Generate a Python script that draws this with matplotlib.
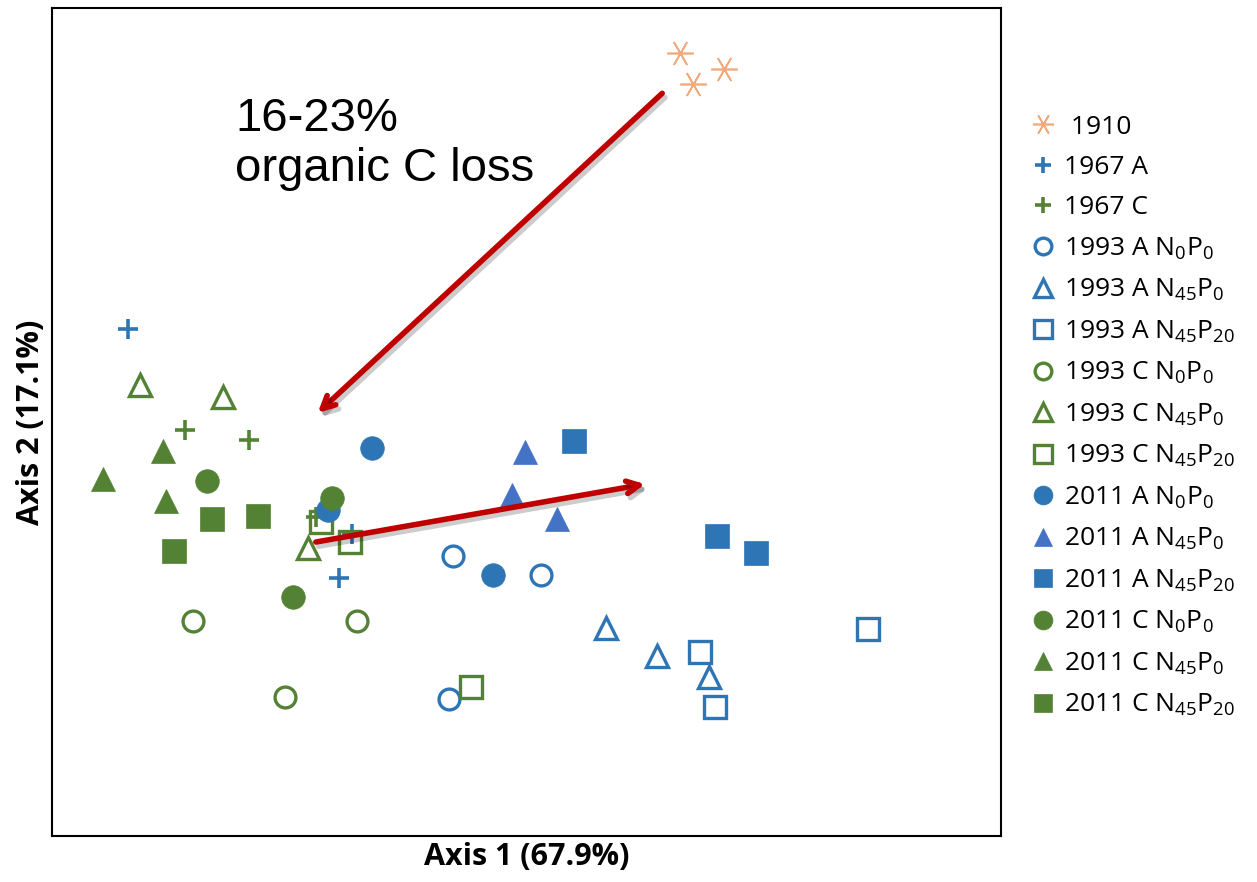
import matplotlib
matplotlib.use("Agg")
import matplotlib.pyplot as plt
import matplotlib.patheffects as pe
from matplotlib.lines import Line2D

plt.rcParams["font.family"] = ["Open Sans", "DejaVu Sans"]
plt.rcParams["mathtext.default"] = "regular"

BLUE = "#2E75B6"
BLUE_TRI = "#4472C4"
GREEN = "#548235"
ORANGE = "#F0A06E"
RED = "#C00000"

# ordination scores (arbitrary units)
series_names = [
    " 1910", "1967 A", "1967 C",
    "1993 A N$_0$P$_0$", "1993 A N$_{45}$P$_0$", "1993 A N$_{45}$P$_{20}$",
    "1993 C N$_0$P$_0$", "1993 C N$_{45}$P$_0$", "1993 C N$_{45}$P$_{20}$",
    "2011 A N$_0$P$_0$", "2011 A N$_{45}$P$_0$", "2011 A N$_{45}$P$_{20}$",
    "2011 C N$_0$P$_0$", "2011 C N$_{45}$P$_0$", "2011 C N$_{45}$P$_{20}$",
]
x_1910 = [66.2, 67.5, 70.8]
y_1910 = [94.6, 90.8, 92.6]
x_1967a = [8.0, 31.6, 30.2]
y_1967a = [61.2, 36.5, 31.2]
x_1967c = [14.0, 20.8, 27.8]
y_1967c = [49.0, 47.8, 38.5]
x_1993a_n0p0 = [42.3, 51.5, 41.8]
y_1993a_n0p0 = [33.8, 31.5, 16.5]
x_1993a_n45p0 = [58.4, 63.8, 69.2]
y_1993a_n45p0 = [25.1, 21.7, 19.2]
x_1993a_n45p20 = [68.3, 69.9, 86.0]
y_1993a_n45p20 = [22.2, 15.6, 25.0]
x_1993c_n0p0 = [14.9, 32.1, 24.6]
y_1993c_n0p0 = [26.0, 26.0, 16.8]
x_1993c_n45p0 = [9.3, 18.0, 27.0]
y_1993c_n45p0 = [54.5, 53.0, 34.8]
x_1993c_n45p20 = [28.3, 31.4, 44.2]
y_1993c_n45p20 = [37.9, 35.5, 18.0]
x_2011a_n0p0 = [33.7, 46.5, 29.1]
y_2011a_n0p0 = [46.9, 31.5, 39.4]
x_2011a_n45p0 = [49.8, 48.5, 53.2]
y_2011a_n45p0 = [46.4, 41.2, 38.3]
x_2011a_n45p20 = [55.0, 70.1, 74.2]
y_2011a_n45p20 = [47.7, 36.2, 34.2]
x_2011c_n0p0 = [16.3, 29.5, 25.4]
y_2011c_n0p0 = [42.9, 40.8, 28.9]
x_2011c_n45p0 = [5.4, 11.7, 12.0]
y_2011c_n45p0 = [43.1, 46.5, 40.5]
x_2011c_n45p20 = [12.9, 16.9, 21.7]
y_2011c_n45p20 = [34.4, 38.3, 38.6]

series_x = [x_1910, x_1967a, x_1967c, x_1993a_n0p0, x_1993a_n45p0, x_1993a_n45p20,
            x_1993c_n0p0, x_1993c_n45p0, x_1993c_n45p20, x_2011a_n0p0, x_2011a_n45p0,
            x_2011a_n45p20, x_2011c_n0p0, x_2011c_n45p0, x_2011c_n45p20]
series_y = [y_1910, y_1967a, y_1967c, y_1993a_n0p0, y_1993a_n45p0, y_1993a_n45p20,
            y_1993c_n0p0, y_1993c_n45p0, y_1993c_n45p20, y_2011a_n0p0, y_2011a_n45p0,
            y_2011a_n45p20, y_2011c_n0p0, y_2011c_n45p0, y_2011c_n45p20]

# arrows: start and end in score units
arrow_loss = [(64.3, 89.7), (28.0, 51.1)]
arrow_shift = [(27.8, 35.5), (62.5, 42.5)]

# marker, colour, filled, size
styles = [
    ("*asterisk", ORANGE, False, 19),
    ("+", BLUE, False, 15),
    ("+", GREEN, False, 15),
    ("o", BLUE, False, 15),
    ("^", BLUE, False, 16),
    ("s", BLUE, False, 16),
    ("o", GREEN, False, 15),
    ("^", GREEN, False, 16),
    ("s", GREEN, False, 16),
    ("o", BLUE, True, 17),
    ("^", BLUE_TRI, True, 17),
    ("s", BLUE, True, 17),
    ("o", GREEN, True, 17),
    ("^", GREEN, True, 17),
    ("s", GREEN, True, 17),
]

fig = plt.figure(figsize=(12.57, 8.82), dpi=100)
ax = fig.add_axes([0.0414, 0.0522, 0.7549, 0.9387])
ax.set_xlim(0, 100)
ax.set_ylim(0, 100)
ax.set_xticks([])
ax.set_yticks([])
for sp in ax.spines.values():
    sp.set_linewidth(1.5)
    sp.set_color("black")

handles = []
for name, xs, ys, (mk, col, filled, ms) in zip(series_names, series_x, series_y, styles):
    if mk == "*asterisk":
        kw = dict(marker=(6, 2, 90), markersize=ms, markeredgewidth=1.2,
                  color=col, alpha=0.9)
    elif mk == "+":
        kw = dict(marker="+", markersize=ms, markeredgewidth=2.6, color=col)
    elif filled:
        kw = dict(marker=mk, markersize=ms, markerfacecolor=col,
                  markeredgecolor=col, markeredgewidth=0.5)
    else:
        kw = dict(marker=mk, markersize=ms, markerfacecolor="none",
                  markeredgecolor=col, markeredgewidth=2.4)
    ax.plot(xs, ys, linestyle="none", **kw)
    lkw = dict(kw)
    lkw["markersize"] = ms * 0.8
    handles.append(Line2D([], [], linestyle="none", label=name, **lkw))

shadow = [pe.SimpleLineShadow(offset=(2, -3), alpha=0.2), pe.Normal()]
for (x0, y0), (x1, y1) in [arrow_loss, arrow_shift]:
    ax.annotate("", xy=(x1, y1), xytext=(x0, y0),
                arrowprops=dict(arrowstyle="->,head_length=0.9,head_width=0.45",
                                color=RED, lw=4, shrinkA=0, shrinkB=0,
                                path_effects=shadow))

ax.text(19.3, 89.3, "16-23%\norganic C loss", fontsize=34, va="top", ha="left",
        family="Liberation Sans", linespacing=1.2)

ax.set_xlabel("Axis 1 (67.9%)", fontsize=22, fontweight="bold", labelpad=4)
ax.set_ylabel("Axis 2 (17.1%)", fontsize=22, fontweight="bold", labelpad=4)

fig.legend(handles=handles, loc="upper left", bbox_to_anchor=(0.812, 0.882),
           frameon=False, fontsize=19, labelspacing=0.58, handletextpad=0.35,
           handlelength=0.9, borderaxespad=0)

fig.savefig("out.png", dpi=100)
